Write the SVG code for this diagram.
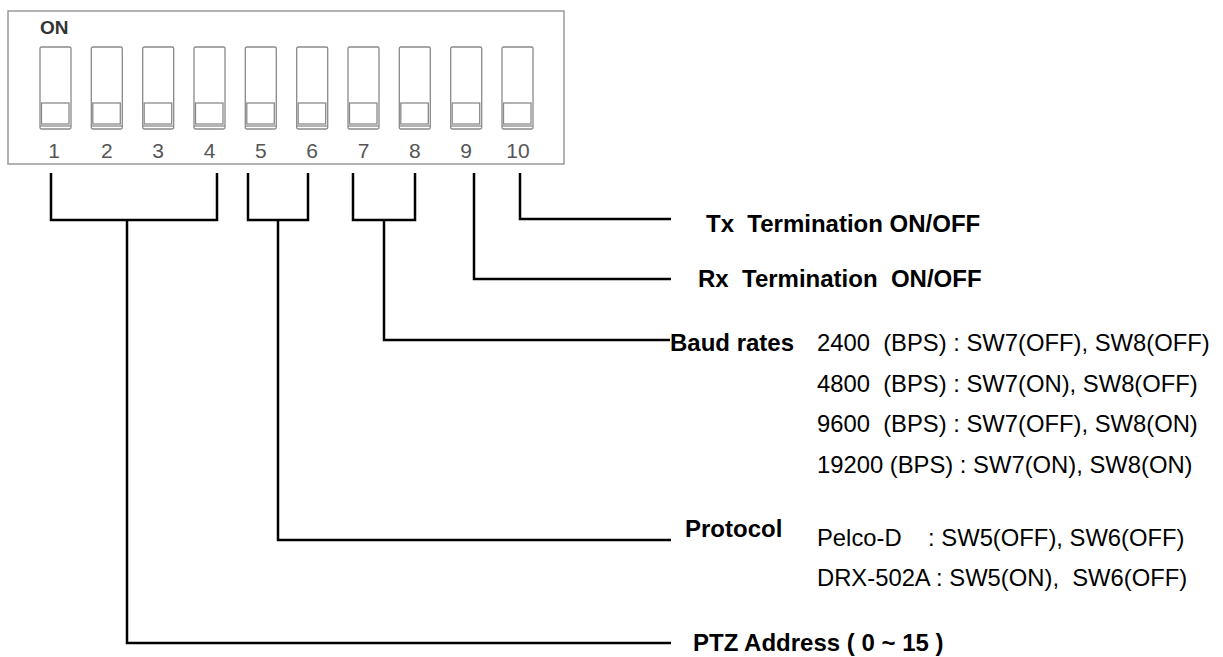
<svg xmlns="http://www.w3.org/2000/svg" width="1223" height="657" viewBox="0 0 1223 657">
<defs>
<style>
.box{fill:#fff;stroke:#9a9a9a;stroke-width:1.5}
.sw{fill:#fff;stroke:#8a8a8a;stroke-width:1.3}
.num{font-family:"Liberation Sans",Arial,sans-serif;font-size:21px;fill:#555;text-anchor:middle}
.on{font-family:"Liberation Sans",Arial,sans-serif;font-size:19px;font-weight:bold;fill:#333}
.lbl{font-family:"Liberation Sans",Arial,sans-serif;font-size:24px;font-weight:bold;fill:#000}
.val{font-family:"Liberation Sans",Arial,sans-serif;font-size:23.8px;fill:#000}
.conn{fill:none;stroke:#000;stroke-width:2.5}
</style>
<g id="switch">
<rect class="sw" x="0" y="0" width="31" height="82" rx="1.5"/>
<rect class="sw" x="1.5" y="56" width="27.5" height="21"/>
<line class="sw" x1="0" y1="79" x2="31" y2="79"/>
</g>
</defs>
<rect width="1223" height="657" fill="#fff"/>
<g id="dip">
<rect class="box" x="8" y="11" width="556" height="153"/>
<text class="on" x="40" y="34">ON</text>
<use href="#switch" x="40" y="47"/>
<use href="#switch" x="91.3" y="47"/>
<use href="#switch" x="142.7" y="47"/>
<use href="#switch" x="194" y="47"/>
<use href="#switch" x="245.3" y="47"/>
<use href="#switch" x="296.7" y="47"/>
<use href="#switch" x="348" y="47"/>
<use href="#switch" x="399.3" y="47"/>
<use href="#switch" x="450.7" y="47"/>
<use href="#switch" x="502" y="47"/>
<text class="num" x="54" y="158">1</text>
<text class="num" x="106.8" y="158">2</text>
<text class="num" x="158.2" y="158">3</text>
<text class="num" x="209.5" y="158">4</text>
<text class="num" x="260.8" y="158">5</text>
<text class="num" x="312.2" y="158">6</text>
<text class="num" x="363.5" y="158">7</text>
<text class="num" x="414.8" y="158">8</text>
<text class="num" x="466.2" y="158">9</text>
<text class="num" x="518" y="158">10</text>
</g>
<g id="connectors">
<path class="conn" d="M51,173 V220 H217 V173 M127,220 V643 H671"/>
<path class="conn" d="M248,173 V220 H308 V173 M278,220 V540 H671"/>
<path class="conn" d="M353,173 V220 H415 V173 M384,220 V340 H670"/>
<path class="conn" d="M474,173 V279 H671"/>
<path class="conn" d="M520,173 V219 H671"/>
</g>
<g id="tx"><text class="lbl" x="706" y="232" xml:space="preserve">Tx  Termination ON/OFF</text></g>
<g id="rx"><text class="lbl" x="698" y="287" xml:space="preserve">Rx  Termination  ON/OFF</text></g>
<g id="baud">
<text class="lbl" x="670" y="351">Baud rates</text>
<text class="val" x="817" y="351" xml:space="preserve">2400  (BPS) : SW7(OFF), SW8(OFF)</text>
<text class="val" x="817" y="392" xml:space="preserve">4800  (BPS) : SW7(ON), SW8(OFF)</text>
<text class="val" x="817" y="432" xml:space="preserve">9600  (BPS) : SW7(OFF), SW8(ON)</text>
<text class="val" x="817" y="473" xml:space="preserve">19200 (BPS) : SW7(ON), SW8(ON)</text>
</g>
<g id="protocol">
<text class="lbl" x="685" y="537">Protocol</text>
<text class="val" x="817" y="546" xml:space="preserve">Pelco-D    : SW5(OFF), SW6(OFF)</text>
<text class="val" x="817" y="586" xml:space="preserve">DRX-502A : SW5(ON),  SW6(OFF)</text>
</g>
<g id="ptz"><text class="lbl" x="693" y="651">PTZ Address ( 0 ~ 15 )</text></g>
</svg>
